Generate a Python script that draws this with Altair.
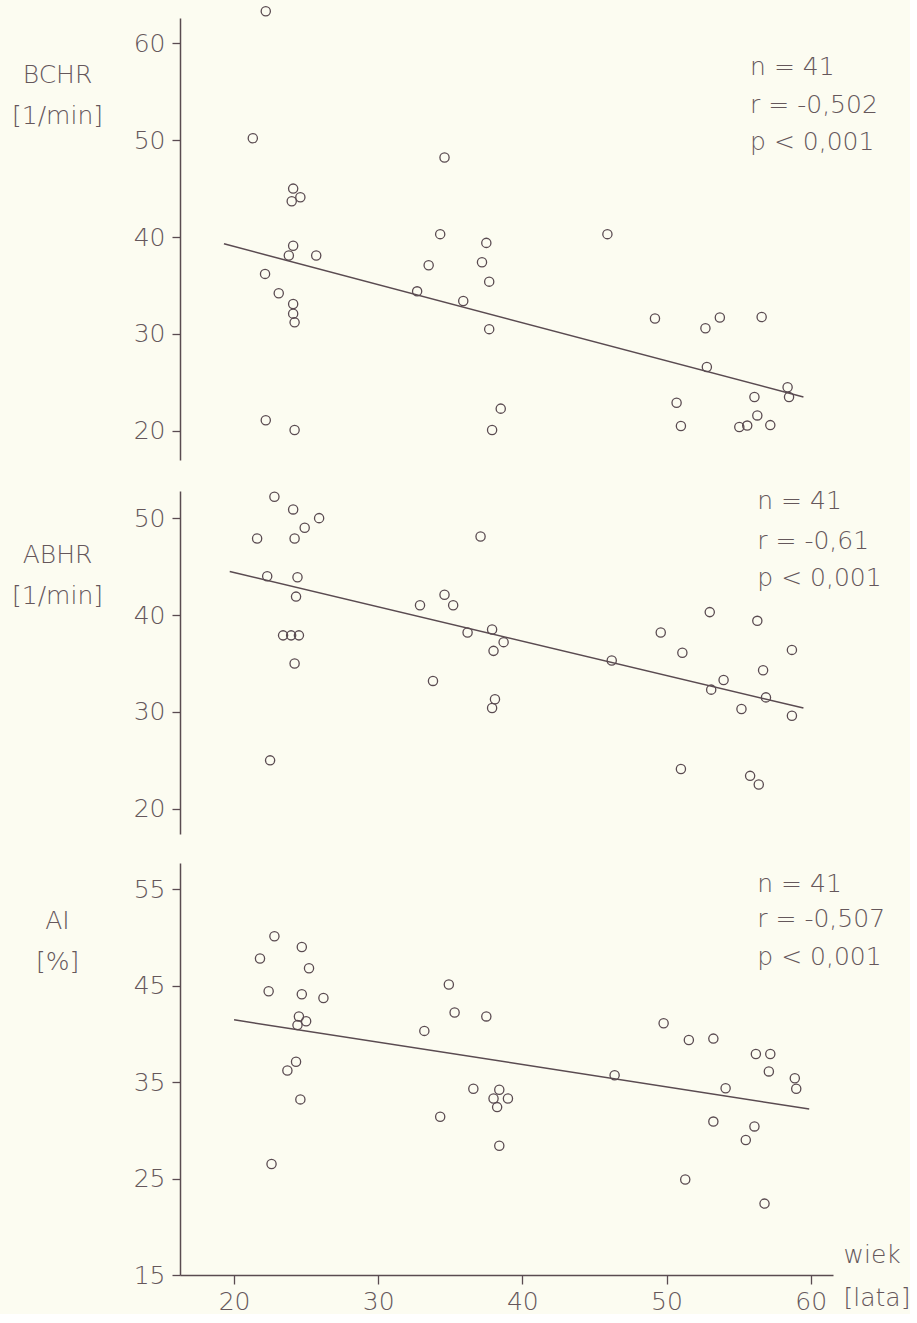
import altair as alt
import pandas as pd

# ---------------- data ----------------
bchr_age = [22.2, 21.3, 34.6, 24.1, 24.6, 24.0, 24.1, 23.8, 25.7, 22.15, 23.1, 24.1, 24.1, 24.2,
            22.2, 24.2, 34.3, 33.5, 32.7, 35.9, 37.5, 37.2, 37.7, 37.7, 38.5, 37.9, 45.9, 49.2,
            52.7, 53.7, 56.6, 52.8, 58.4, 58.5, 56.1, 50.7, 51.0, 56.3, 55.05, 55.6, 57.2]
bchr_val = [63.3, 50.2, 48.2, 45.0, 44.1, 43.7, 39.1, 38.1, 38.1, 36.2, 34.2, 33.1, 32.1, 31.2,
            21.1, 20.1, 40.3, 37.1, 34.4, 33.4, 39.4, 37.4, 35.4, 30.5, 22.3, 20.1, 40.3, 31.6,
            30.6, 31.7, 31.75, 26.6, 24.5, 23.5, 23.5, 22.9, 20.5, 21.6, 20.4, 20.55, 20.6]

abhr_age = [22.8, 24.1, 25.9, 24.9, 21.6, 24.2, 37.1, 22.3, 24.4, 24.3, 23.4, 23.96, 24.5, 24.2,
            22.5, 32.9, 34.6, 35.2, 33.8, 36.2, 37.9, 38.7, 38.0, 38.1, 37.9, 46.2, 49.6, 53.0,
            56.3, 51.1, 58.7, 56.7, 53.96, 53.1, 56.9, 55.2, 58.7, 51.0, 55.8, 56.4]
abhr_val = [52.2, 50.9, 50.0, 49.0, 47.9, 47.9, 48.1, 44.0, 43.9, 41.9, 37.9, 37.9, 37.9, 35.0,
            25.0, 41.0, 42.1, 41.0, 33.2, 38.2, 38.5, 37.2, 36.3, 31.3, 30.4, 35.3, 38.2, 40.3,
            39.4, 36.1, 36.4, 34.3, 33.3, 32.3, 31.5, 30.3, 29.6, 24.1, 23.4, 22.5]

ai_age = [22.8, 21.8, 24.7, 25.2, 22.4, 24.7, 26.2, 24.5, 25.0, 24.4, 24.3, 23.7, 24.6, 22.6,
          34.9, 35.3, 37.5, 33.2, 36.6, 38.4, 38.0, 39.0, 38.25, 34.3, 38.4, 46.4, 49.8, 51.55,
          53.25, 56.2, 57.2, 57.1, 58.9, 59.0, 54.1, 53.25, 56.1, 55.5, 51.3, 56.8]
ai_val = [50.1, 47.8, 49.0, 46.8, 44.4, 44.1, 43.7, 41.8, 41.3, 40.9, 37.1, 36.2, 33.2, 26.5,
          45.1, 42.2, 41.8, 40.3, 34.3, 34.2, 33.3, 33.3, 32.4, 31.4, 28.4, 35.7, 41.1, 39.35,
          39.5, 37.9, 37.9, 36.1, 35.4, 34.3, 34.35, 30.9, 30.4, 29.0, 24.9, 22.4]

# regression lines (end points as drawn)
bchr_fit_x = [19.3, 59.5]
bchr_fit_y = [39.3, 23.5]
abhr_fit_x = [19.7, 59.5]
abhr_fit_y = [44.5, 30.4]
ai_fit_x = [20.0, 59.9]
ai_fit_y = [41.45, 32.2]

# statistics text
bchr_stats = ["n = 41", "r = -0,502", "p < 0,001"]
abhr_stats = ["n = 41", "r = -0,61", "p < 0,001"]
ai_stats = ["n = 41", "r = -0,507", "p < 0,001"]
bchr_stats_x = [55.8, 55.8, 55.8]
bchr_stats_y = [56.7, 52.8, 49.0]
abhr_stats_x = [56.3, 56.3, 56.3]
abhr_stats_y = [50.9, 46.8, 43.0]
ai_stats_x = [56.3, 56.3, 56.3]
ai_stats_y = [54.7, 51.1, 47.1]

x_ticks = [20, 30, 40, 50, 60]
bchr_ticks = [20, 30, 40, 50, 60]
abhr_ticks = [20, 30, 40, 50]
ai_ticks = [15, 25, 35, 45, 55]

# ---------------- style ----------------
INK = "#5a4b51"
TXT = "#65575b"
BG = "#fcfcf1"
FONT = "DejaVu Sans"
FS = 25
W = 653
X_DOMAIN = [16.25, 61.55]


def panel(age, val, fx, fy, sx, sy, stxt, ydom, yticks, title, title_y, height, show_x):
    if show_x:
        xaxis = alt.Axis(values=x_ticks, grid=False, domainColor=INK, domainWidth=1.5,
                         tickColor=INK, tickWidth=1.3, tickSize=9, labelPadding=5,
                         labelFontSize=FS, labelFont=FONT, labelColor=TXT, labelFontWeight=300,
                         title=["wiek", "[lata]"], titleX=W + 10, titleY=-13,
                         titleAlign="left", titleBaseline="alphabetic", titleAngle=0,
                         titleFontSize=FS, titleFont=FONT, titleColor=TXT,
                         titleFontWeight=300, titleLineHeight=43)
    else:
        xaxis = None
    yaxis = alt.Axis(values=yticks, grid=False, domainColor=INK, domainWidth=1.5,
                     tickColor=INK, tickWidth=1.3, tickSize=8, labelPadding=7,
                     labelFontSize=FS, labelFont=FONT, labelColor=TXT, labelFontWeight=300,
                     title=title, titleAngle=0, titleX=-123, titleY=title_y,
                     titleAlign="center", titleBaseline="alphabetic",
                     titleFontSize=FS, titleFont=FONT, titleColor=TXT,
                     titleFontWeight=300, titleLineHeight=41)
    x = alt.X("age:Q", scale=alt.Scale(domain=X_DOMAIN, nice=False, zero=False), axis=xaxis)
    y = alt.Y("v:Q", scale=alt.Scale(domain=ydom, nice=False, zero=False), axis=yaxis)

    pts = alt.Chart(pd.DataFrame({"age": age, "v": val})).mark_point(
        shape="circle", filled=False, size=85, strokeWidth=1.3, color=INK, opacity=1
    ).encode(x=x, y=y)
    line = alt.Chart(pd.DataFrame({"age": fx, "v": fy})).mark_line(
        color=INK, strokeWidth=1.5
    ).encode(x=x, y=y)
    txt = alt.Chart(pd.DataFrame({"age": sx, "v": sy, "t": stxt})).mark_text(
        align="left", baseline="alphabetic", fontSize=FS, font=FONT, fontWeight=300, color=TXT
    ).encode(x=x, y=y, text="t:N")
    return alt.layer(line, pts, txt).properties(width=W, height=height)


p1 = panel(bchr_age, bchr_val, bchr_fit_x, bchr_fit_y, bchr_stats_x, bchr_stats_y, bchr_stats,
           [17.0, 62.6], bchr_ticks, ["BCHR", "[1/min]"], 64, 442, False)
p2 = panel(abhr_age, abhr_val, abhr_fit_x, abhr_fit_y, abhr_stats_x, abhr_stats_y, abhr_stats,
           [17.4, 52.8], abhr_ticks, ["ABHR", "[1/min]"], 71, 343, False)
p3 = panel(ai_age, ai_val, ai_fit_x, ai_fit_y, ai_stats_x, ai_stats_y, ai_stats,
           [15.0, 57.7], ai_ticks, ["AI", "[%]"], 65, 412, True)

chart = alt.vconcat(p1, p2, p3, spacing=29).resolve_scale(
    x="independent", y="independent"
).properties(
    padding={"left": 11, "top": 4, "right": 0, "bottom": 0},
    background=BG,
).configure_view(stroke=None)

chart.save("out.html", embed_options={"renderer": "svg", "actions": False})
